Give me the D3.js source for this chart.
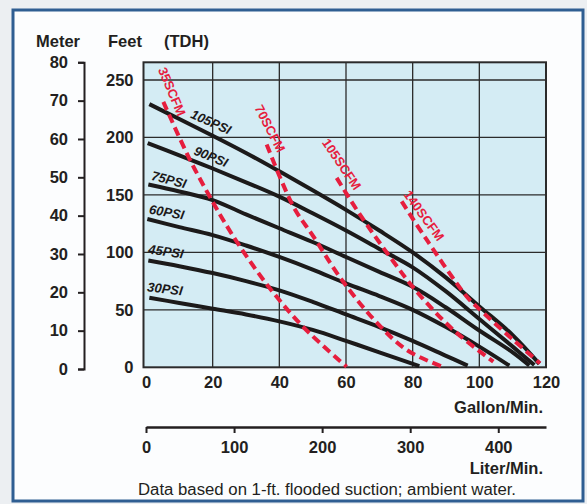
<!DOCTYPE html>
<html>
<head>
<meta charset="utf-8">
<script src="https://cdn.jsdelivr.net/npm/d3@7/dist/d3.min.js"></script>
<style>
  html, body { margin: 0; padding: 0; background: #eceff2; }
  svg { display: block; }
  text { font-family: "Liberation Sans", Arial, Helvetica, sans-serif; fill: #231f20; }
</style>
</head>
<body>
<svg id="chart" width="587" height="504"></svg>
<script>
// ---------------- DATA ----------------
const gpmTicks = [0, 20, 40, 60, 80, 100, 120];
const feetTicks = [0, 50, 100, 150, 200, 250];
const meterTicks = [0, 10, 20, 30, 40, 50, 60, 70, 80];
const literTicks = [0, 100, 200, 300, 400];

// pressure curves: [gpm, feet]
const psi105 = [[1,229],[10,216],[20,201.5],[30,186.5],[40,170.5],[50,154],[60,137],[70,119],[80,100],[90,78],[100,53],[110,28],[118,3]];
const psi90  = [[0.5,195],[10,184.5],[20,173],[30,161],[40,148.5],[50,134],[60,119],[70,103],[80,87],[90,66],[100,42],[110,18],[116.5,2]];
const psi75  = [[0.7,159],[10,153],[20,145.5],[30,133],[40,121],[50,109],[60,96],[70,83],[80,70],[90,52],[100,32],[110,13],[115,1.5]];
const psi60  = [[0.4,129],[10,122],[20,115],[30,106],[40,96],[50,85],[60,73],[70,62],[80,50],[90,35],[100,18],[109,1.5]];
const psi45  = [[0.7,93],[10,88],[20,82],[30,75],[40,67],[50,57],[60,46],[70,35],[80,23],[90,10],[96.5,1.5]];
const psi30  = [[1,60.5],[10,56],[20,51],[30,46],[40,40],[50,32.5],[60,23],[70,13],[82,1]];
const psiNames = ["105PSI", "90PSI", "75PSI", "60PSI", "45PSI", "30PSI"];
const psiSeries = [psi105, psi90, psi75, psi60, psi45, psi30];
// label anchors [gpm, feet, rotation deg]
const psiLabelPos = [[19.5,213.5,24],[19.5,183.4,22],[6.9,163.3,14],[6.2,135,10],[6,100.8,8],[5.7,68.3,7]];

// air consumption curves: [gpm, feet]
const scfm35  = [[5.2,231],[13.2,180.5],[20.2,143],[23.2,128],[28.2,105],[37.2,68.6],[47.2,35],[60.2,0.5]];
const scfm70  = [[36.2,193.9],[40.5,163.3],[44.7,137.3],[50.2,113.9],[58.2,78.3],[68.5,41.2],[78.2,15.1],[89.1,0.3]];
const scfm105 = [[57.2,164.8],[64.2,132.8],[74.2,92.1],[81.2,65.9],[92.2,32.5],[104.2,4.9]];
const scfm140 = [[76.7,144.4],[84.2,111],[96.2,61.6],[99.2,52.8],[110.2,23.8],[118.2,3.5]];
const scfmNames = ["35SCFM", "70SCFM", "105SCFM", "140SCFM"];
const scfmSeries = [scfm35, scfm70, scfm105, scfm140];
const scfmLabelPos = [[7.8,240,67],[37.2,207.8,63],[58.7,176.7,56],[83.4,132,54]];

const gpmToLpm = 3.785;
const footnote = "Data based on 1-ft. flooded suction; ambient water.";

// ---------------- SCALES ----------------
const svg = d3.select("#chart");
const x = d3.scaleLinear().domain([0, 120]).range([146, 546]);
const xL = d3.scaleLinear().domain([0, 120 * gpmToLpm]).range([146, 546]);
const yF = d3.scaleLinear().domain([0, 250]).range([367.3, 80]);
const yM = d3.scaleLinear().domain([0, 80]).range([369, 62.3]);

// ---------------- FRAME ----------------
svg.append("rect").attr("x", 13).attr("y", 10).attr("width", 570).attr("height", 491)
  .attr("fill", "#fcfdfe").attr("stroke", "#2f5e92").attr("stroke-width", 3);

// plot background
const plotLeft = x(0) - 2.5, plotRight = x(120), plotTop = yM(80), plotBottom = yF(0);
svg.append("rect").attr("x", plotLeft).attr("y", plotTop)
  .attr("width", plotRight - plotLeft).attr("height", plotBottom - plotTop)
  .attr("fill", "#d4ecf4");

// grid
const grid = svg.append("g").attr("stroke", "#2b2b2b").attr("stroke-width", 1.3);
grid.selectAll("line.v").data(gpmTicks.slice(1, -1)).join("line")
  .attr("x1", d => x(d)).attr("x2", d => x(d)).attr("y1", plotTop).attr("y2", plotBottom);
grid.selectAll("line.h").data(feetTicks.slice(1)).join("line")
  .attr("x1", plotLeft).attr("x2", plotRight).attr("y1", d => yF(d)).attr("y2", d => yF(d));

svg.append("rect").attr("x", plotLeft).attr("y", plotTop)
  .attr("width", plotRight - plotLeft).attr("height", plotBottom - plotTop)
  .attr("fill", "none").attr("stroke", "#2b2b2b").attr("stroke-width", 2);

// ---------------- CURVES ----------------
const line = d3.line().x(d => x(d[0])).y(d => yF(d[1])).curve(d3.curveCatmullRom.alpha(0.5));

svg.append("g").selectAll("path").data(psiSeries).join("path")
  .attr("d", line).attr("fill", "none").attr("stroke", "#1c1a1a")
  .attr("stroke-width", 4);

svg.append("g").selectAll("path").data(scfmSeries).join("path")
  .attr("d", line).attr("fill", "none").attr("stroke", "#e61e3e")
  .attr("stroke-width", 4).attr("stroke-dasharray", "9,5");

// labels
svg.append("g").selectAll("text").data(psiNames).join("text")
  .attr("transform", (d, i) => `translate(${x(psiLabelPos[i][0])},${yF(psiLabelPos[i][1])}) rotate(${psiLabelPos[i][2]})`)
  .attr("text-anchor", "middle").attr("dy", "0.35em")
  .style("font-size", "13px").style("font-weight", "bold").style("font-style", "italic")
  .style("fill", "#1c1a1a").text(d => d);

svg.append("g").selectAll("text").data(scfmNames).join("text")
  .attr("transform", (d, i) => `translate(${x(scfmLabelPos[i][0])},${yF(scfmLabelPos[i][1])}) rotate(${scfmLabelPos[i][2]})`)
  .attr("text-anchor", "middle").attr("dy", "0.35em")
  .style("font-size", "13px").style("font-weight", "bold")
  .style("fill", "#e61e3e").text(d => d);

// ---------------- AXES ----------------
const fontAxis = g => g.selectAll("text").style("font-size", "16.5px").style("font-weight", "bold")
  .style("font-family", "'Liberation Sans', Arial, sans-serif").attr("fill", "#231f20");

// gallon axis (labels only)
const gx = svg.append("g").attr("transform", `translate(0,${plotBottom})`)
  .call(d3.axisBottom(x).tickValues(gpmTicks).tickSize(0).tickPadding(9).tickFormat(d3.format("d")));
gx.select(".domain").remove();
fontAxis(gx);

// feet axis (labels only)
const gyF = svg.append("g").attr("transform", `translate(${plotLeft},0)`)
  .call(d3.axisLeft(yF).tickValues(feetTicks).tickSize(0).tickPadding(10));
gyF.select(".domain").remove();
fontAxis(gyF);

// meter axis
const gyM = svg.append("g").attr("transform", "translate(84,0)")
  .call(d3.axisLeft(yM).tickValues(meterTicks).tickSize(6).tickPadding(10));
gyM.selectAll("line, path").attr("stroke", "#231f20").attr("stroke-width", 2);
fontAxis(gyM);

// liter axis
const gxL = svg.append("g").attr("transform", "translate(0,427)")
  .call(d3.axisBottom(xL).tickValues(literTicks).tickSize(6).tickSizeOuter(0).tickPadding(8));
gxL.select(".domain").attr("stroke", "#231f20").attr("stroke-width", 2.5);
gxL.selectAll(".tick line").attr("stroke", "#231f20").attr("stroke-width", 2);
fontAxis(gxL);

// titles
const titles = [["Meter", 36, 47, "start"], ["Feet", 108, 47, "start"], ["(TDH)", 164, 47, "start"],
  ["Gallon/Min.", 543, 413, "end"], ["Liter/Min.", 543, 473.5, "end"]];
svg.append("g").selectAll("text").data(titles).join("text")
  .attr("x", d => d[1]).attr("y", d => d[2]).attr("text-anchor", d => d[3])
  .style("font-size", "16.5px").style("font-weight", "bold").text(d => d[0]);

svg.append("text").attr("x", 327).attr("y", 495).attr("text-anchor", "middle")
  .attr("textLength", 378).attr("lengthAdjust", "spacingAndGlyphs")
  .style("font-size", "16px").text(footnote);
</script>
</body>
</html>
